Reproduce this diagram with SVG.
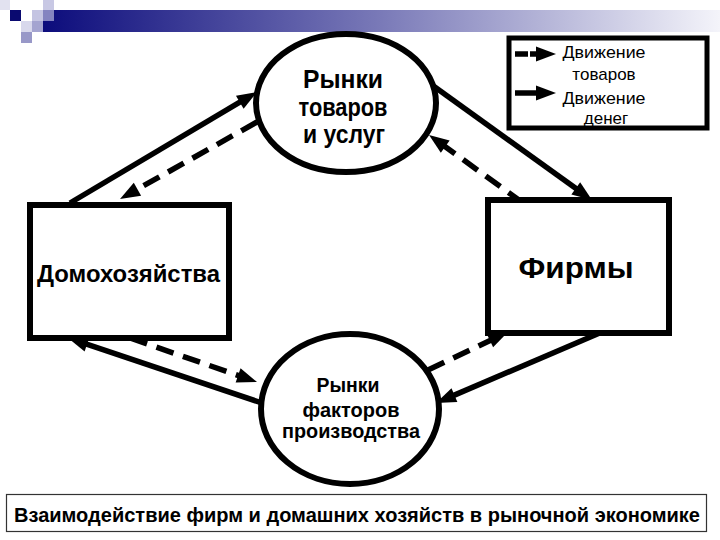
<svg xmlns="http://www.w3.org/2000/svg" width="720" height="540" viewBox="0 0 720 540">
<style>
.shape{fill:#fff;stroke:#000;stroke-width:6}
.conn{stroke:#000;stroke-width:5.5;fill:none}
.dash{stroke-dasharray:18 10}
.t{font-family:"Liberation Sans",Arial,sans-serif;font-weight:bold;fill:#000;text-anchor:middle}
.lg{font-family:"Liberation Sans",Arial,sans-serif;font-size:17px;fill:#000;text-anchor:middle}
</style>
<defs>
<linearGradient id="bar" x1="0" y1="0" x2="1" y2="0">
<stop offset="0" stop-color="#0c0c7c"/>
<stop offset="0.5" stop-color="#7a7ab8"/>
<stop offset="1" stop-color="#f4f4fa"/>
</linearGradient>
<marker id="ah" markerUnits="userSpaceOnUse" markerWidth="24" markerHeight="20" refX="0" refY="0" viewBox="-3 -10 24 20" orient="auto" overflow="visible">
<path d="M-2,-7.5 L18,0 L-2,7.5 z" fill="#000"/>
</marker>
</defs>
<rect width="720" height="540" fill="#fff"/>
<g id="header">
<rect x="43" y="10" width="677" height="22" fill="url(#bar)"/>
<rect x="0" y="0" width="10" height="10" fill="#e2e2f0"/>
<rect x="10" y="10" width="11" height="11" fill="#0a0a70"/>
<rect x="21" y="21" width="11" height="11" fill="#d8d8ec"/>
<rect x="21" y="32" width="11" height="11" fill="#9898c8"/>
<rect x="32" y="10" width="11" height="11" fill="#c4c4e2"/>
<rect x="32" y="21" width="11" height="11" fill="#a4a4d0"/>
<rect x="43" y="0" width="11" height="10" fill="#c8c8e4"/>
<rect x="43" y="10" width="11" height="11" fill="#8484c0"/>
</g>
<g id="legend">
<rect x="509" y="38" width="198" height="90" fill="#fff" stroke="#000" stroke-width="5"/>
<line x1="515" y1="54" x2="538" y2="54" class="conn" stroke-dasharray="13 2" marker-end="url(#ah)"/>
<line x1="515" y1="93" x2="538" y2="93" class="conn" marker-end="url(#ah)"/>
<text class="lg" x="604" y="58" textLength="83" lengthAdjust="spacingAndGlyphs">Движение</text>
<text class="lg" x="604" y="80">товаров</text>
<text class="lg" x="604" y="104" textLength="83" lengthAdjust="spacingAndGlyphs">Движение</text>
<text class="lg" x="606" y="124">денег</text>
</g>
<g id="connectors">
<line class="conn" x1="70" y1="203" x2="241.5" y2="101.2" marker-end="url(#ah)"/>
<line class="conn dash" x1="257" y1="122" x2="135.7" y2="190.2" marker-end="url(#ah)"/>
<line class="conn" x1="432" y1="85" x2="577.4" y2="189.5" marker-end="url(#ah)"/>
<line class="conn dash" x1="523" y1="203" x2="443.6" y2="145.5" marker-end="url(#ah)"/>
<line class="conn" x1="262" y1="403" x2="85.1" y2="343.7" marker-end="url(#ah)"/>
<line class="conn dash" x1="130" y1="338" x2="240" y2="376.1" marker-end="url(#ah)"/>
<line class="conn dash" x1="428" y1="370" x2="491.7" y2="339.7" marker-end="url(#ah)"/>
<line class="conn" x1="602" y1="332" x2="452.6" y2="395.9" marker-end="url(#ah)"/>
</g>
<g id="goods-market">
<ellipse class="shape" cx="346" cy="103" rx="90" ry="69"/>
<text class="t" font-size="25" x="343" y="88" textLength="80" lengthAdjust="spacingAndGlyphs">Рынки</text>
<text class="t" font-size="25" x="343" y="116" textLength="89" lengthAdjust="spacingAndGlyphs">товаров</text>
<text class="t" font-size="25" x="344" y="143" textLength="82" lengthAdjust="spacingAndGlyphs">и услуг</text>
</g>
<g id="households">
<rect class="shape" x="30" y="205" width="199" height="133"/>
<text class="t" font-size="24" x="128.5" y="282" textLength="183" lengthAdjust="spacingAndGlyphs">Домохозяйства</text>
</g>
<g id="firms">
<rect class="shape" x="488" y="200" width="181" height="133"/>
<text class="t" font-size="29" x="576" y="278" textLength="115" lengthAdjust="spacingAndGlyphs">Фирмы</text>
</g>
<g id="factor-market">
<ellipse class="shape" cx="350" cy="409" rx="89" ry="75"/>
<text class="t" font-size="20" x="348" y="392" textLength="63" lengthAdjust="spacingAndGlyphs">Рынки</text>
<text class="t" font-size="20" x="351" y="417" textLength="97" lengthAdjust="spacingAndGlyphs">факторов</text>
<text class="t" font-size="20" x="351" y="438" textLength="138" lengthAdjust="spacingAndGlyphs">производства</text>
</g>
<g id="caption">
<rect x="6.5" y="494.5" width="700" height="37" fill="#fff" stroke="#333" stroke-width="1.2"/>
<text class="t" font-size="20" x="357" y="522" textLength="686" lengthAdjust="spacingAndGlyphs">Взаимодействие фирм и домашних хозяйств в рыночной экономике</text>
</g>
</svg>
